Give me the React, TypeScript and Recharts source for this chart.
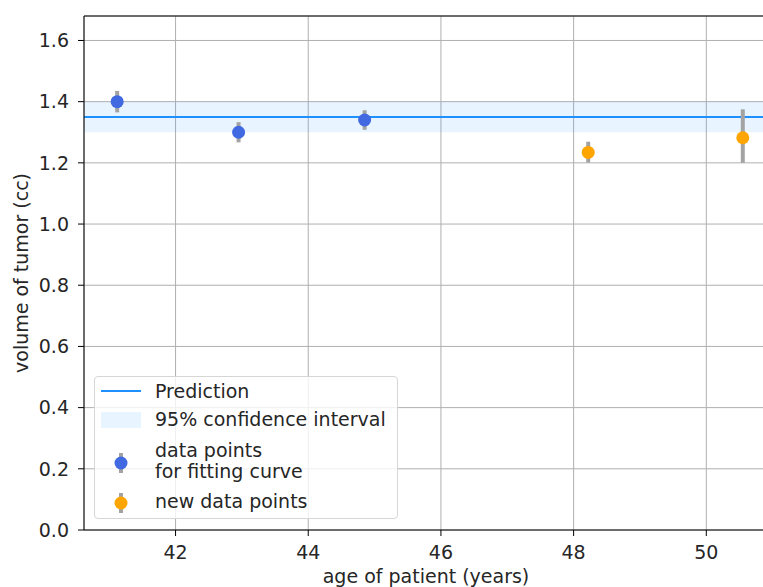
import React from "react"
import {
  ComposedChart,
  Area,
  Line,
  Scatter,
  ErrorBar,
  XAxis,
  YAxis,
  CartesianGrid,
  ReferenceLine,
  Label,
} from "recharts"

// fitted prediction (flat) and its 95% band
const predAge = [40.62, 50.93]
const predVolume = [1.35, 1.35]
const ciLow = [1.3, 1.3]
const ciHigh = [1.4, 1.4]

// points used for the fit
const fitAge = [41.12, 42.95, 44.85]
const fitVolume = [1.4, 1.3, 1.34]
const fitErrLow = [0.035, 0.033, 0.032]
const fitErrHigh = [0.035, 0.033, 0.032]

// new observations
const newAge = [48.22, 50.55]
const newVolume = [1.234, 1.282]
const newErrLow = [0.033, 0.082]
const newErrHigh = [0.035, 0.093]

const xTicks = [42, 44, 46, 48, 50]
const yTicks = [0, 0.2, 0.4, 0.6, 0.8, 1.0, 1.2, 1.4, 1.6]

const FONT = "'DejaVu Sans', sans-serif"
const FS = 19
const TEXT = "#262626"
const PRED_COLOR = "#1e90ff"
const FIT_COLOR = "#4169e1"
const NEW_COLOR = "#ffa500"
const ERR_COLOR = "#a3a3a3"

const curveData = predAge.map((age, i) => ({
  age,
  pred: predVolume[i],
  band: [ciLow[i], ciHigh[i]],
}))

const fitData = fitAge.map((age, i) => ({
  age,
  volume: fitVolume[i],
  err: [fitErrLow[i], fitErrHigh[i]],
}))

const newData = newAge.map((age, i) => ({
  age,
  volume: newVolume[i],
  err: [newErrLow[i], newErrHigh[i]],
}))

const tickStyle = { fill: TEXT, fontSize: FS, fontFamily: FONT }

function LegendMarker({ color }: { color: string }) {
  return (
    <svg width={40} height={24} style={{ marginTop: 4 }}>
      <line x1={20} y1={2} x2={20} y2={22} stroke={ERR_COLOR} strokeWidth={4} />
      <circle cx={20} cy={12} r={6.5} fill={color} />
    </svg>
  )
}

function ChartLegend() {
  const row = (h: number): React.CSSProperties => ({ display: "flex", alignItems: "center", height: h })
  const swatch: React.CSSProperties = { width: 40, marginRight: 14, display: "flex", justifyContent: "center" }
  return (
    <div
      style={{
        position: "absolute",
        left: 86,
        top: 368,
        width: 304,
        height: 143,
        boxSizing: "border-box",
        border: "1px solid #d6d6d6",
        borderRadius: 4,
        background: "rgba(255,255,255,0.8)",
        padding: "0 0 0 6px",
        fontFamily: FONT,
        fontSize: FS,
        color: TEXT,
        lineHeight: "21px",
      }}
    >
      <div style={row(28)}>
        <div style={swatch}>
          <div style={{ width: 40, height: 2, background: PRED_COLOR }} />
        </div>
        <span>Prediction</span>
      </div>
      <div style={row(29)}>
        <div style={swatch}>
          <div style={{ width: 40, height: 16, background: "rgba(30,144,255,0.1)" }} />
        </div>
        <span>95% confidence interval</span>
      </div>
      <div style={row(54)}>
        <div style={swatch}>
          <LegendMarker color={FIT_COLOR} />
        </div>
        <span>
          data points
          <br />
          for fitting curve
        </span>
      </div>
      <div style={row(26)}>
        <div style={swatch}>
          <LegendMarker color={NEW_COLOR} />
        </div>
        <span>new data points</span>
      </div>
    </div>
  )
}

export default function App() {
  return (
    <div style={{ padding: "8px 0 0 8px" }}>
      <style>{"body { margin: 0; }"}</style>
      <div style={{ position: "relative", width: 755, height: 579, overflow: "hidden" }}>
        <ComposedChart
          width={800}
          height={600}
          data={curveData}
          margin={{ top: 8, right: 40, bottom: 28, left: 16 }}
        >
          <CartesianGrid stroke="#b0b0b0" strokeWidth={1} />
          <XAxis
            dataKey="age"
            type="number"
            domain={[40.62, 50.93]}
            ticks={xTicks}
            allowDataOverflow
            height={50}
            tick={tickStyle}
            tickLine={{ stroke: "#000" }}
            axisLine={{ stroke: "#000" }}
            tickSize={6}
            tickMargin={10}
          >
            <Label
              value="age of patient (years)"
              position="insideBottom"
              offset={0}
              style={{ fill: TEXT, fontSize: FS, fontFamily: FONT }}
              dy={3}
            />
          </XAxis>
          <YAxis
            type="number"
            domain={[0, 1.68]}
            ticks={yTicks}
            allowDataOverflow
            width={60}
            tick={tickStyle}
            tickFormatter={(v: number) => v.toFixed(1)}
            tickLine={{ stroke: "#000" }}
            axisLine={{ stroke: "#000" }}
            tickSize={6}
            tickMargin={9}
          >
            <Label
              content={(props: any) => {
                const vb = props.viewBox || { x: 16, y: 8, width: 60, height: 514 }
                const cx = vb.x - 3
                const cy = vb.y + vb.height / 2
                return (
                  <text
                    x={cx}
                    y={cy}
                    transform={`rotate(-90 ${cx} ${cy})`}
                    textAnchor="middle"
                    dominantBaseline="central"
                    fill={TEXT}
                    fontSize={FS}
                    fontFamily={FONT}
                  >
                    volume of tumor (cc)
                  </text>
                )
              }}
            />
          </YAxis>
          <ReferenceLine y={1.68} stroke="#000" strokeWidth={1.2} ifOverflow="extendDomain" />
          <Area
            dataKey="band"
            stroke="none"
            fill={PRED_COLOR}
            fillOpacity={0.1}
            isAnimationActive={false}
            type="linear"
          />
          <Line
            dataKey="pred"
            stroke={PRED_COLOR}
            strokeWidth={2}
            dot={false}
            activeDot={false}
            type="linear"
            isAnimationActive={false}
          />
          <Scatter data={fitData} dataKey="volume" fill={FIT_COLOR} shape={(p: any) => <circle cx={p.cx} cy={p.cy} r={6.5} fill={FIT_COLOR} />} isAnimationActive={false}>
            <ErrorBar dataKey="err" direction="y" width={0} stroke={ERR_COLOR} strokeWidth={4} />
          </Scatter>
          <Scatter data={newData} dataKey="volume" fill={NEW_COLOR} shape={(p: any) => <circle cx={p.cx} cy={p.cy} r={6.5} fill={NEW_COLOR} />} isAnimationActive={false}>
            <ErrorBar dataKey="err" direction="y" width={0} stroke={ERR_COLOR} strokeWidth={4} />
          </Scatter>
        </ComposedChart>
        <ChartLegend />
      </div>
    </div>
  )
}
